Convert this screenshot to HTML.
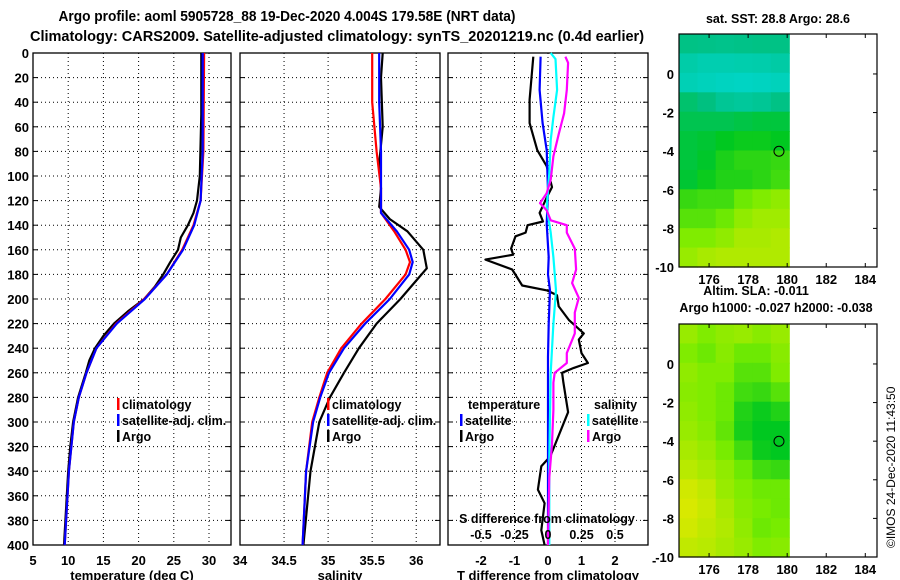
<!DOCTYPE html>
<html><head><meta charset="utf-8">
<style>
html,body{margin:0;padding:0;background:#fff;}
svg{display:block;font-family:"Liberation Sans",Arial,sans-serif;font-weight:bold;}
text{fill:#000;}
</style></head>
<body>
<svg id="c" width="900" height="580" viewBox="0 0 900 580" xmlns="http://www.w3.org/2000/svg">
<text x="287" y="21" font-size="14.5" text-anchor="middle" textLength="457" lengthAdjust="spacingAndGlyphs">Argo profile: aoml 5905728_88 19-Dec-2020 4.004S 179.58E (NRT data)</text>
<text x="337" y="41" font-size="14.5" text-anchor="middle">Climatology: CARS2009. Satellite-adjusted climatology: synTS_20201219.nc (0.4d earlier)</text>
<g id="g"></g>
</svg>
<script>
// ---------- data ----------
const depthTicks=[0,20,40,60,80,100,120,140,160,180,200,220,240,260,280,300,320,340,360,380,400];
const tTicks=[5,10,15,20,25,30];
const sTicks=[34,34.5,35,35.5,36];
const dTicks=[-2,-1,0,1,2];
const sdTickLabels=["-0.5","-0.25","0","0.25","0.5"];
const sdTickVals=[-0.5,-0.25,0,0.25,0.5];
// temperature profiles [depth, value]
const tClimDepth=[0,80,120,140,160,180,200,220,240,260,280,300,340,400];
const tClimVal=[29.3,29.2,28.8,27.8,26.2,24.0,20.8,16.8,14.0,12.6,11.5,10.8,10.1,9.5];
const tSatDepth=[0,80,120,140,160,180,200,220,240,260,280,300,340,400];
const tSatVal=[29.1,29.1,28.8,27.9,26.3,24.0,20.9,16.9,14.0,12.6,11.5,10.8,10.1,9.5];
const tArgoDepth=[0,50,100,120,130,140,150,160,170,180,190,200,210,220,230,240,250,260,280,300,320,340,370,400];
const tArgoVal=[28.9,28.9,28.7,28.3,27.8,27.0,26.0,25.6,24.5,23.5,22.3,20.8,18.5,16.5,15.0,13.8,13.0,12.5,11.4,10.7,10.3,10.0,9.7,9.4];
// salinity profiles
const sClimDepth=[0,40,80,110,130,145,160,170,180,200,220,240,260,280,300,340,400];
const sClimVal=[35.5,35.5,35.55,35.6,35.6,35.75,35.88,35.93,35.88,35.65,35.38,35.15,34.99,34.9,34.82,34.75,34.71];
const sSatDepth=[0,40,80,110,130,145,160,170,180,200,220,240,260,280,300,340,400];
const sSatVal=[35.58,35.58,35.6,35.6,35.6,35.78,35.92,35.96,35.92,35.7,35.42,35.18,35.01,34.91,34.83,34.75,34.71];
const sArgoDepth=[0,20,60,90,110,125,135,145,160,175,185,200,220,240,260,280,300,340,400];
const sArgoVal=[35.62,35.6,35.62,35.58,35.6,35.58,35.7,35.9,36.08,36.12,36.0,35.82,35.55,35.35,35.18,35.02,34.9,34.8,34.72];
// difference profiles
const dtArgoDepth=[3,38,57,79,92,109,117,130,137,140,146,149,159,164,168,176,189,193,197,206,217,228,233,244,252,256,260,268,292,328,336,355,366,388,400];
const dtArgoVal=[-0.44,-0.55,-0.55,-0.32,-0.04,0.12,-0.03,-0.25,-0.15,-0.61,-0.67,-0.97,-1.1,-1.04,-1.87,-1.07,-0.77,-0.03,0.27,0.32,0.62,1.07,0.92,1.0,1.19,0.77,0.42,0.46,0.6,0.07,-0.2,-0.3,-0.1,-0.2,-0.1];
const dtSatDepth=[3,30,57,79,112,139,166,180,193,220,247,300,400];
const dtSatVal=[-0.22,-0.25,-0.16,-0.04,0,-0.04,0.02,0,0.06,0.02,0,0,0];
const dsSatDepth=[0,5,30,52,71,98,125,146,166,193,220,260,330,400];
const dsSatVal=[0.02,0.056,0.068,0.04,0.02,0.01,-0.01,0.02,0.04,0.06,0.04,0.02,0.01,0.01];
const dsArgoDepth=[3,8,30,49,66,84,103,114,122,128,136,140,146,159,176,187,199,211,228,244,252,260,268,290,318,345,395,400];
const dsArgoVal=[0.13,0.15,0.14,0.12,0.08,0.04,0.02,-0.01,-0.06,-0.01,0.02,0.14,0.14,0.2,0.21,0.18,0.23,0.2,0.2,0.14,0.14,0.05,0.04,0.04,0.03,0.01,0,0];
// maps: rows lat 2..-10 (1 deg each), cols lon 174.5..180.1
const mapLonTicks=[176,178,180,182,184];
const mapLatTicks=[0,-2,-4,-6,-8,-10];
const sstGrid=[
[0.28,0.27,0.26,0.27,0.28,0.28],
[0.15,0.12,0.12,0.13,0.14,0.16],
[0.10,0.08,0.06,0.05,0.06,0.08],
[0.34,0.30,0.22,0.20,0.22,0.28],
[0.40,0.40,0.40,0.42,0.44,0.44],
[0.44,0.46,0.50,0.52,0.52,0.50],
[0.44,0.48,0.55,0.58,0.58,0.60],
[0.46,0.52,0.56,0.56,0.58,0.62],
[0.60,0.62,0.62,0.70,0.74,0.78],
[0.66,0.66,0.70,0.78,0.82,0.82],
[0.74,0.74,0.78,0.84,0.84,0.86],
[0.80,0.84,0.86,0.86,0.86,0.86]];
const slaGrid=[
[0.80,0.74,0.78,0.80,0.76,0.80],
[0.74,0.70,0.76,0.70,0.70,0.76],
[0.78,0.74,0.74,0.66,0.66,0.74],
[0.76,0.74,0.70,0.62,0.60,0.66],
[0.78,0.74,0.70,0.56,0.52,0.56],
[0.80,0.76,0.68,0.54,0.50,0.50],
[0.84,0.80,0.72,0.62,0.52,0.50],
[0.88,0.84,0.78,0.70,0.62,0.60],
[0.94,0.90,0.80,0.74,0.70,0.70],
[0.96,0.92,0.84,0.76,0.72,0.70],
[0.94,0.90,0.86,0.78,0.70,0.72],
[0.90,0.88,0.84,0.80,0.74,0.76]];
const sstTitle="sat. SST: 28.8 Argo: 28.6";
const slaTitle="Altim. SLA: -0.011";
const hTitle="Argo h1000: -0.027 h2000: -0.038";
const floatLon=179.58, floatLat=-4.004;

// ---------- drawing ----------
const NS="http://www.w3.org/2000/svg";
const G=document.getElementById('g');
function mk(tag,attrs,parent){const e=document.createElementNS(NS,tag);for(const k in attrs)e.setAttribute(k,attrs[k]);(parent||G).appendChild(e);return e;}
const y0=53,y1=545;
function yD(d){return y0+(y1-y0)*d/400;}

const panels=[
 {name:'temperature',x0:33,x1:231,min:5,max:33.125,ticks:tTicks,title:'temperature (deg C)'},
 {name:'salinity',x0:240,x1:440,min:34,max:36.27,ticks:sTicks,title:'salinity'},
 {name:'difference',x0:448,x1:648,min:-2.985,max:2.985,ticks:dTicks,title:'T difference from climatology'}
];
function sx(p,v){return p.x0+(v-p.min)/(p.max-p.min)*(p.x1-p.x0);}

panels.forEach((p,i)=>{
  const g=mk('g',{});
  
  
  depthTicks.forEach(d=>{ if(d>0&&d<400){const l=mk('line',{x1:p.x0,x2:p.x1,y1:yD(d),y2:yD(d),stroke:'#000','stroke-width':1,'stroke-dasharray':'1,3'},g);
    }
    mk('line',{x1:p.x0,x2:p.x0+5,y1:yD(d),y2:yD(d),stroke:'#000'},g);
    mk('line',{x1:p.x1-5,x2:p.x1,y1:yD(d),y2:yD(d),stroke:'#000'},g);
  });
  p.ticks.forEach(v=>{const x=sx(p,v); if(x>p.x0+1&&x<p.x1-1){const l=mk('line',{x1:x,x2:x,y1:y0,y2:y1,stroke:'#000','stroke-width':1,'stroke-dasharray':'1,3'},g);
    }
    const t=mk('text',{x:x,y:565,'font-size':13,'text-anchor':'middle'},g);t.textContent=String(v);
    
  });
  const f=mk('rect',{x:p.x0,y:y0,width:p.x1-p.x0,height:y1-y0,fill:'none',stroke:'#000','stroke-width':1.3},g);
  
  const at=mk('text',{x:(p.x0+p.x1)/2,y:580,'font-size':13,'text-anchor':'middle'},g);at.textContent=p.title;
  
});
depthTicks.forEach(d=>{const t=mk('text',{x:29,y:yD(d)+5,'font-size':13,'text-anchor':'end'});t.textContent=String(d);
  });
{const t=mk('text',{x:652,y:565,'font-size':13});t.textContent='-';}

function line(p,depths,vals,color,name,scale){
  const pts=depths.map((d,i)=>sx(p,vals[i]*(scale||1)).toFixed(1)+','+yD(d).toFixed(1)).join(' ');
  const e=mk('polyline',{points:pts,fill:'none',stroke:color,'stroke-width':2.2,'stroke-linejoin':'round'});
  
}
const P1=panels[0],P2=panels[1],P3=panels[2];
line(P1,tArgoDepth,tArgoVal,'#000','temperature-argo-line');
line(P1,tClimDepth,tClimVal,'#f00','temperature-climatology-line');
line(P1,tSatDepth,tSatVal,'#00f','temperature-satellite-line');
line(P2,sArgoDepth,sArgoVal,'#000','salinity-argo-line');
line(P2,sClimDepth,sClimVal,'#f00','salinity-climatology-line');
line(P2,sSatDepth,sSatVal,'#00f','salinity-satellite-line');
line(P3,dtArgoDepth,dtArgoVal,'#000','t-diff-argo-line');
line(P3,dtSatDepth,dtSatVal,'#00f','t-diff-satellite-line');
line(P3,dsSatDepth,dsSatVal,'#0ff','s-diff-satellite-line',4);
line(P3,dsArgoDepth,dsArgoVal,'#f0f','s-diff-argo-line',4);

{const t=mk('text',{x:547,y:523,'font-size':12.5,'text-anchor':'middle'});t.textContent='S difference from climatology';
 }
sdTickVals.forEach((v,i)=>{const t=mk('text',{x:sx(P3,v*4),y:539,'font-size':12.5,'text-anchor':'middle'});t.textContent=sdTickLabels[i];
  });

function legend(x,y,color,label,name){
  const g=mk('g',{});
  mk('rect',{x:x,y:y-11,width:2.5,height:12,fill:color},g);
  const t=mk('text',{x:x+5,y:y,'font-size':12.5},g);t.textContent=label;
}
legend(117,409,'#f00','climatology','legend-climatology');
legend(117,425,'#00f','satellite-adj. clim.','legend-satellite');
legend(117,441,'#000','Argo','legend-argo');
legend(327,409,'#f00','climatology','legend-climatology');
legend(327,425,'#00f','satellite-adj. clim.','legend-satellite');
legend(327,441,'#000','Argo','legend-argo');
{const t=mk('text',{x:468,y:409,'font-size':12.5});t.textContent='temperature';
 const s=mk('text',{x:594,y:409,'font-size':12.5});s.textContent='salinity';}
legend(460,425,'#00f','satellite','legend-t-satellite');
legend(460,441,'#000','Argo','legend-t-argo');
legend(587,425,'#0ff','satellite','legend-s-satellite');
legend(587,441,'#f0f','Argo','legend-s-argo');

const stops=[[0,[0,216,208]],[0.3,[0,192,128]],[0.5,[0,200,32]],[0.72,[120,236,0]],[1,[232,232,0]]];
function cmap(v){for(let i=1;i<stops.length;i++){if(v<=stops[i][0]){const a=stops[i-1],b=stops[i],t=(v-a[0])/(b[0]-a[0]);
  const c=a[1].map((q,k)=>Math.round(q+(b[1][k]-q)*t));return 'rgb('+c.join(',')+')';}}return 'rgb(232,232,0)';}

function drawMap(top,bottom,grid,name,titles){
  const m={x0:679,x1:877,lon0:174.46,lon1:184.6,lat0:2.07,lat1:-10};
  const mx=l=>m.x0+(l-m.lon0)/(m.lon1-m.lon0)*(m.x1-m.x0);
  const my=l=>top+(l-m.lat0)/(m.lat1-m.lat0)*(bottom-top);
  const g=mk('g',{});
  const nr=grid.length,nc=grid[0].length,lonEnd=180.1;
  grid.forEach((row,r)=>row.forEach((v,c)=>{
    const la=m.lat0-(m.lat0-m.lat1)*r/nr, lb=m.lat0-(m.lat0-m.lat1)*(r+1)/nr;
    const xa=mx(m.lon0+(lonEnd-m.lon0)*c/nc), xb=mx(m.lon0+(lonEnd-m.lon0)*(c+1)/nc);
    const e=mk('rect',{x:xa.toFixed(1),y:my(la).toFixed(1),width:(xb-xa+0.6).toFixed(1),height:(my(lb)-my(la)+0.6).toFixed(1),fill:cmap(v)},g);
    
  }));
  const fr=mk('rect',{x:m.x0,y:top,width:m.x1-m.x0,height:bottom-top,fill:'none',stroke:'#000','stroke-width':1.2},g);
  
  mapLonTicks.forEach(l=>{mk('line',{x1:mx(l),x2:mx(l),y1:top,y2:top+4,stroke:'#000'},g);mk('line',{x1:mx(l),x2:mx(l),y1:bottom-4,y2:bottom,stroke:'#000'},g);
    const t=mk('text',{x:mx(l),y:bottom+17,'font-size':13,'text-anchor':'middle'},g);t.textContent=String(l);
    });
  mapLatTicks.forEach(l=>{mk('line',{x1:m.x1-4,x2:m.x1,y1:my(l),y2:my(l),stroke:'#000'},g);
    const t=mk('text',{x:674,y:my(l)+5,'font-size':13,'text-anchor':'end'},g);t.textContent=String(l);
    });
  const c=mk('circle',{cx:mx(floatLon),cy:my(floatLat),r:5,fill:'none',stroke:'#000','stroke-width':1},g);
  
  titles.forEach(tt=>{const t=mk('text',{x:tt[1],y:tt[2],'font-size':12.5,'text-anchor':'middle'},g);t.textContent=tt[0];
    });
}
drawMap(34,267,sstGrid,'sst-map',[[sstTitle,778,23]]);
drawMap(324,557,slaGrid,'sla-map',[[slaTitle,756,295],[hTitle,776,312]]);
{const t=mk('text',{x:0,y:0,'font-size':12,'font-weight':'normal',transform:'translate(895,548) rotate(-90)'});t.textContent='©IMOS 24-Dec-2020 11:43:50';
 }
</script>
</body></html>
